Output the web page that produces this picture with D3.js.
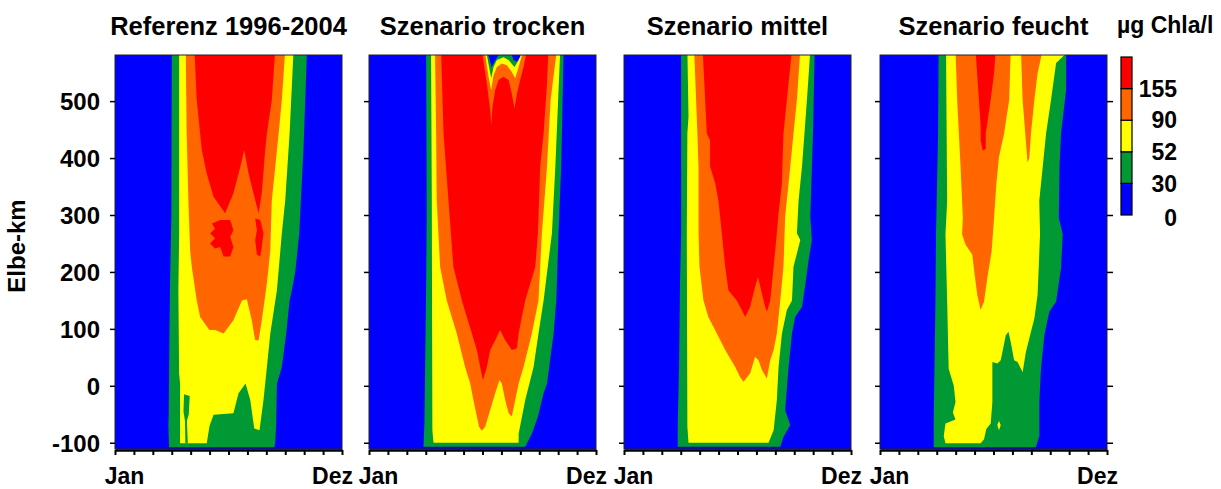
<!DOCTYPE html>
<html>
<head>
<meta charset="utf-8">
<script src="https://cdn.jsdelivr.net/npm/d3@7/dist/d3.min.js"></script>
<style>
  body { margin: 0; background: #fff; }
  svg text { font-family: "Liberation Sans", Arial, sans-serif; font-weight: bold; fill: #000; }
</style>
</head>
<body>
<script>
// Klassengrenzen Chlorophyll-a (µg/l) und Farben
const stufen = [0, 30, 52, 90, 155]
const farben = ["#0000ff", "#009933", "#ffff00", "#ff6600", "#ff0000"]

const titel = ["Referenz 1996-2004", "Szenario trocken", "Szenario mittel", "Szenario feucht"]
const kmTicks = [-100, 0, 100, 200, 300, 400, 500]
const monatsTicks = d3.range(13)
const monatsLabels = [["Jan", 0.5], ["Dez", 11.5]]

// Isolinien als Polygone: [Monat, Elbe-km]
// Referenz 1996-2004
const ref_gruen = [[3.0,590],[2.98,300],[2.96,268],[2.91,180],[2.88,100],[2.84,-50],[2.82,-70],[2.86,-108],[8.42,-108],[8.47,-100],[8.52,-66],[8.56,4],[8.82,33],[9.05,92],[9.23,150],[9.35,168],[9.53,200],[9.74,268],[9.97,420],[10.15,590]]
const ref_gelb = [[3.39,590],[3.39,267],[3.35,168],[3.39,21],[3.44,4],[3.44,-101],[4.85,-101],[5.0,-70],[5.21,-51],[6.26,-48],[6.53,-13],[6.9,4],[7.15,-25],[7.36,-75],[7.64,-78],[7.85,-25],[8.03,33],[8.21,92],[8.56,168],[8.82,268],[9.0,326],[9.23,443],[9.44,590]]
const ref_gruenStreifen = [[3.65,-15],[3.95,-18],[3.9,-50],[3.8,-62],[3.85,-101],[3.72,-101],[3.7,-62],[3.62,-45]]
const ref_orange = [[3.74,590],[3.79,443],[3.88,326],[3.97,238],[4.06,209],[4.32,150],[4.5,121],[4.99,98],[5.3,98],[5.74,92],[6.26,115],[6.71,150],[6.97,152],[7.23,115],[7.41,80],[7.59,80],[7.76,115],[8.03,180],[8.21,238],[8.29,326],[8.47,384],[8.65,443],[8.82,502],[9.0,590]]
const ref_rot = [[4.2,590],[4.32,502],[4.5,443],[4.59,414],[4.85,373],[5.21,332],[5.82,303],[6.26,338],[6.62,384],[6.83,414],[7.06,373],[7.32,338],[7.59,303],[7.76,338],[7.94,414],[8.03,443],[8.29,502],[8.47,590]]
const ref_rotFleckA = [[5.12,285],[5.56,291],[6.09,291],[6.26,273],[6.09,262],[6.26,244],[6.09,227],[5.74,227],[5.56,244],[5.29,241],[5.03,250],[5.29,259],[5.03,268],[5.29,276]]
const ref_rotFleckB = [[7.41,294],[7.68,291],[7.85,268],[7.76,244],[7.68,227],[7.5,230],[7.41,256],[7.5,273]]

// Szenario trocken
const tro_gruen = [[3.02,590],[3.05,297],[3.02,176],[2.93,-66],[2.88,-107],[8.26,-107],[8.61,-84],[8.93,-54],[9.23,-13],[9.41,4],[9.76,92],[9.9,150],[10.02,268],[10.16,385],[10.29,590]]
const tro_gelb = [[3.28,590],[3.32,326],[3.35,-78],[3.41,-100],[7.91,-100],[7.91,-84],[8.26,-25],[8.7,33],[8.96,92],[9.23,150],[9.67,268],[9.85,385],[10.11,590]]
const tro_orange = [[3.49,590],[3.55,443],[3.58,326],[3.76,209],[4.11,150],[4.64,92],[5.08,33],[5.35,4],[5.52,-25],[5.7,-54],[5.82,-72],[5.96,-79],[6.14,-72],[6.41,-42],[6.67,-13],[6.9,10],[7.02,4],[7.2,-25],[7.38,-48],[7.55,-54],[7.73,-25],[7.91,4],[8.17,33],[8.61,92],[8.96,150],[9.14,268],[9.41,385],[9.6,502],[9.93,590]]
const tro_rot = [[3.81,590],[3.94,443],[4.2,326],[4.46,209],[4.91,150],[5.17,121],[5.44,92],[5.7,63],[5.88,33],[6.02,10],[6.23,33],[6.41,63],[6.67,80],[6.93,98],[7.2,80],[7.55,63],[7.82,66],[7.91,92],[8.08,121],[8.26,150],[8.79,209],[8.93,268],[9.05,385],[9.23,443],[9.41,531],[9.49,590]]
const tro_kerbeOrange = [[5.96,590],[6.23,531],[6.41,484],[6.46,458],[6.53,490],[6.67,519],[6.85,537],[7.11,543],[7.38,537],[7.55,513],[7.69,487],[7.82,513],[7.99,537],[8.17,560],[8.35,590]]
const tro_kerbeGelb = [[6.11,590],[6.32,543],[6.46,519],[6.58,545],[6.76,560],[7.02,566],[7.29,563],[7.55,551],[7.73,540],[7.91,560],[8.17,590]]
const tro_kerbeGruen = [[6.18,590],[6.35,560],[6.46,540],[6.58,560],[6.76,572],[7.11,577],[7.38,572],[7.69,560],[7.91,572],[8.08,590]]
const tro_kerbeBlau1 = [[6.23,590],[6.41,569],[6.49,560],[6.63,569],[6.85,581],[6.93,590]]
const tro_kerbeBlau2 = [[7.46,590],[7.64,572],[7.82,569],[7.99,578],[8.08,590]]

// Szenario mittel
const mit_gruen = [[3.02,590],[3.02,268],[2.96,180],[2.91,33],[2.84,-66],[2.84,-107],[8.26,-107],[8.43,-90],[8.79,-69],[8.52,-43],[8.7,33],[8.88,92],[9.05,121],[9.41,139],[9.58,176],[9.76,221],[9.93,256],[9.85,297],[9.99,443],[10.08,590]]
const mit_gelb = [[3.35,590],[3.41,472],[3.35,443],[3.32,268],[3.35,-72],[3.41,-100],[7.64,-100],[7.91,-78],[8.08,-25],[8.17,33],[8.35,92],[8.61,133],[8.88,150],[8.96,209],[9.32,256],[9.14,268],[9.23,326],[9.41,385],[9.67,502],[9.85,590]]
const mit_orange = [[3.71,590],[3.88,443],[3.94,385],[3.94,268],[3.99,209],[4.2,150],[4.46,121],[4.91,92],[5.35,63],[5.88,33],[6.14,15],[6.32,7],[6.67,22],[6.93,51],[7.11,45],[7.29,28],[7.55,13],[7.73,45],[7.91,63],[8.08,92],[8.26,150],[8.43,209],[8.52,297],[8.79,385],[8.96,443],[9.14,502],[9.32,590]]
const mit_rot = [[4.16,590],[4.29,502],[4.38,443],[4.55,431],[4.55,385],[4.82,356],[4.99,326],[5.17,268],[5.35,209],[5.52,168],[5.96,150],[6.23,133],[6.41,121],[6.67,139],[6.93,174],[7.08,191],[7.29,162],[7.46,139],[7.55,130],[7.73,150],[7.91,209],[8.08,268],[8.17,303],[8.35,356],[8.43,443],[8.61,502],[8.88,590]]

// Szenario feucht
const feu_gruen = [[3.1,590],[3.07,443],[2.96,266],[2.93,148],[2.84,-59],[2.84,-108],[8.24,-108],[8.42,-88],[8.42,-29],[8.51,30],[8.69,89],[8.95,130],[9.31,148],[9.57,207],[9.66,266],[9.45,295],[9.49,384],[9.57,443],[9.84,520],[9.84,590]]
const feu_gelb = [[3.49,590],[3.55,325],[3.46,266],[3.55,148],[3.63,30],[3.9,0],[3.99,-29],[3.85,-47],[3.99,-59],[3.46,-66],[3.37,-88],[3.46,-101],[5.32,-101],[5.5,-94],[5.62,-76],[5.85,-66],[5.94,-29],[5.94,42],[6.21,39],[6.38,45],[6.47,59],[6.65,89],[6.79,95],[6.91,77],[7.09,45],[7.27,42],[7.45,30],[7.54,24],[7.71,59],[7.98,95],[8.16,118],[8.33,160],[8.39,207],[8.46,266],[8.42,325],[8.6,384],[8.78,443],[9.04,502],[9.31,567],[9.75,581],[9.75,590]]
const feu_gelbFleck = [[6.2,-69],[6.29,-62],[6.38,-69],[6.29,-78]]
const feu_orangeA = [[3.99,590],[4.08,502],[4.26,384],[4.38,295],[4.34,266],[4.52,248],[4.88,230],[4.96,207],[5.14,160],[5.32,133],[5.5,148],[5.67,189],[5.9,236],[6.03,295],[6.15,354],[6.29,402],[6.56,443],[6.83,502],[6.91,590]]
const feu_orangeB = [[7.45,590],[7.54,502],[7.68,443],[7.8,392],[7.89,400],[7.98,443],[8.16,502],[8.33,549],[8.6,590]]
const feu_rot = [[5.05,590],[5.23,502],[5.32,455],[5.32,431],[5.44,413],[5.59,416],[5.59,443],[5.85,502],[6.03,549],[6.12,590]]

const panels = [
    [[30, ref_gruen], [52, ref_gelb], [30, ref_gruenStreifen], [90, ref_orange], [155, ref_rot], [155, ref_rotFleckA], [155, ref_rotFleckB]],
    [[30, tro_gruen], [52, tro_gelb], [90, tro_orange], [155, tro_rot], [90, tro_kerbeOrange], [52, tro_kerbeGelb], [30, tro_kerbeGruen], [0, tro_kerbeBlau1], [0, tro_kerbeBlau2]],
    [[30, mit_gruen], [52, mit_gelb], [90, mit_orange], [155, mit_rot]],
    [[30, feu_gruen], [52, feu_gelb], [52, feu_gelbFleck], [90, feu_orangeA], [90, feu_orangeB], [155, feu_rot]]
]

const width = 1221
const height = 489
const panelLeft = [115, 369, 624, 880]
const plotW = 227
const plotTop = 55
const plotBottom = 449

const svg = d3.select("body")
    .append("svg")
    .attr("width", width)
    .attr("height", height)

const y = d3.scaleLinear().domain([-111, 581]).range([plotBottom, plotTop])
const farbe = d3.scaleOrdinal().domain(stufen).range(farben)

panels.forEach((schichten, i) => {
    const x = d3.scaleLinear().domain([0, 12]).range([panelLeft[i], panelLeft[i] + plotW])
    const g = svg.append("g")

    g.append("clipPath")
        .attr("id", `clip${i}`)
        .append("rect")
        .attr("x", x(0))
        .attr("y", y(581))
        .attr("width", x(12) - x(0))
        .attr("height", y(-111) - y(581))

    const plot = g.append("g").attr("clip-path", `url(#clip${i})`)

    plot.append("rect")
        .attr("x", x(0))
        .attr("y", y(581))
        .attr("width", x(12) - x(0))
        .attr("height", y(-111) - y(581))
        .attr("fill", farbe(0))

    const line = d3.line()
        .x(d => x(d[0]))
        .y(d => y(d[1]))
        .curve(d3.curveLinearClosed)

    plot.selectAll("path")
        .data(schichten)
        .join("path")
        .attr("d", d => line(d[1]))
        .attr("fill", d => farbe(d[0]))

    // Rahmen
    g.append("rect")
        .attr("x", x(0))
        .attr("y", y(581))
        .attr("width", x(12) - x(0))
        .attr("height", y(-111) - y(581))
        .attr("fill", "none")
        .attr("stroke", "#222")
        .attr("stroke-width", 1)

    const yAxis = g.append("g")
        .attr("transform", `translate(${x(0)},0)`)
        .call(d3.axisLeft(y)
            .tickValues(kmTicks)
            .tickSize(5)
            .tickSizeOuter(0)
            .tickPadding(10)
            .tickFormat(i === 0 ? d => String(d) : ""))
    yAxis.select(".domain").remove()
    yAxis.selectAll(".tick line").attr("stroke", "#000").attr("stroke-width", 1.5)
    yAxis.selectAll("text")
        .attr("font-size", 24)
        .attr("font-family", null)
        .attr("dy", "0.36em")

    if (i === 3) {
        const yRight = g.append("g")
            .attr("transform", `translate(${x(12)},0)`)
            .call(d3.axisRight(y).tickValues(kmTicks).tickSize(6).tickSizeOuter(0).tickFormat(""))
        yRight.select(".domain").remove()
        yRight.selectAll(".tick line").attr("stroke", "#000").attr("stroke-width", 1.5)
    }

    const xAxis = g.append("g")
        .attr("transform", `translate(0,${plotBottom + 1})`)
        .call(d3.axisBottom(x).tickValues(monatsTicks).tickSize(5).tickSizeOuter(0).tickFormat(""))
    xAxis.select(".domain").attr("stroke", "#000").attr("stroke-width", 2.5)
    xAxis.selectAll(".tick line").attr("stroke", "#000").attr("stroke-width", 2)

    g.selectAll(".monat")
        .data(monatsLabels)
        .join("text")
        .attr("class", "monat")
        .attr("x", d => x(d[1]))
        .attr("y", 484)
        .attr("text-anchor", "middle")
        .attr("font-size", 23)
        .text(d => d[0])

    g.append("text")
        .attr("x", (x(0) + x(12)) / 2)
        .attr("y", 35)
        .attr("text-anchor", "middle")
        .attr("font-size", 25.5)
        .text(titel[i])
})

svg.append("text")
    .attr("transform", "translate(25,246) rotate(-90)")
    .attr("text-anchor", "middle")
    .attr("font-size", 24)
    .text("Elbe-km")

// Farblegende
const legX = 1121
const legW = 11
const legY = d3.scaleLinear().domain([0, stufen.length]).range([215, 57])

const leg = svg.append("g")

leg.selectAll("rect")
    .data(stufen)
    .join("rect")
    .attr("x", legX)
    .attr("y", (d, i) => legY(i + 1))
    .attr("width", legW)
    .attr("height", (d, i) => legY(i) - legY(i + 1))
    .attr("fill", d => farbe(d))
    .attr("stroke", "#000")
    .attr("stroke-width", 1.2)

leg.selectAll("text")
    .data(stufen)
    .join("text")
    .attr("x", 1177)
    .attr("y", (d, i) => legY(i) + (i === 0 ? 3 : 0))
    .attr("dy", "0.36em")
    .attr("text-anchor", "end")
    .attr("font-size", 23)
    .text(d => d)

svg.append("text")
    .attr("x", 1117)
    .attr("y", 33)
    .attr("font-size", 23)
    .text("µg Chla/l")
</script>
</body>
</html>
